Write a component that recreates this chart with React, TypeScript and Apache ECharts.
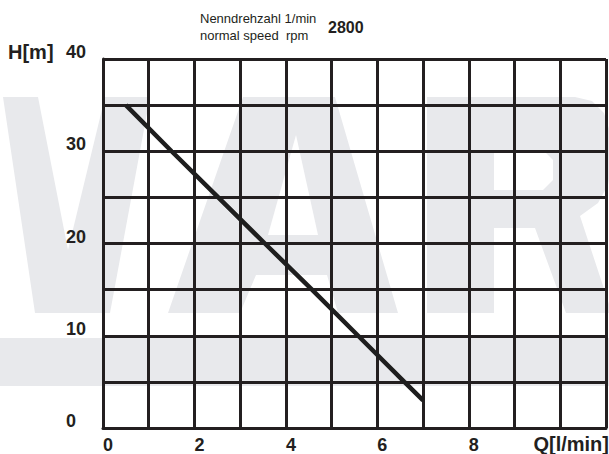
import React, { useEffect, useRef } from "react";
import * as echarts from "echarts";

const flowQ = [0.5, 1.5, 2.52, 3.54, 4.57, 5.58, 6.59, 7.0];
const headH = [35, 30, 25, 20, 15, 10, 5, 3.0];
const xTickLabels = [0, 2, 4, 6, 8];
const yTickLabels = [0, 10, 20, 30, 40];
const headerLine1 = "Nenndrehzahl 1/min";
const headerLine2 = "normal speed  rpm";
const speedValue = "2800";
const yName = "H[m]";
const xName = "Q[l/min]";

const INK = "#231f20";
const WM = "#e8e9ec";
const FONT = '"Liberation Sans", Arial, Helvetica, sans-serif';

export default function App() {
  const ref = useRef<HTMLDivElement>(null);
  useEffect(() => {
    if (!ref.current) return;
    const chart = echarts.init(ref.current, undefined, { renderer: "svg" });
    const wm = (points: number[][], fill = WM) => ({
      type: "polygon",
      z: -10,
      silent: true,
      shape: { points },
      style: { fill },
    });
    chart.setOption({
      animation: false,
      backgroundColor: "#ffffff",
      grid: { left: 103, top: 59, width: 507, height: 369, containLabel: false },
      graphic: [
        // watermark
        { type: "rect", z: -10, silent: true, shape: { x: 0, y: 338, width: 609, height: 48 }, style: { fill: WM } },
        wm([[3, 97], [38, 97], [68, 250], [105, 97], [150, 97], [110, 313], [35, 313]]),
        wm([[168, 313], [243, 97], [335, 97], [398, 313], [338, 313], [327, 275], [256, 275], [240, 313]]),
        wm([[296, 135], [318, 235], [268, 235]], "#ffffff"),
        wm([[427, 97], [575, 97], [592, 101], [604, 113], [610, 132], [612, 160], [608, 185], [598, 203], [580, 216], [612, 313], [566, 313], [535, 228], [494, 228], [494, 313], [427, 313]]),
        wm([[494, 150], [543, 150], [553, 160], [553, 180], [543, 190], [494, 190]], "#ffffff"),
        // texts
        { type: "text", x: 200, y: 18, style: { text: headerLine1, font: `13px ${FONT}`, fill: INK, verticalAlign: "middle", align: "left" } },
        { type: "text", x: 200, y: 35, style: { text: headerLine2, font: `13px ${FONT}`, fill: INK, verticalAlign: "middle", align: "left" } },
        { type: "text", x: 328, y: 27, style: { text: speedValue, font: `bold 16px ${FONT}`, fill: INK, verticalAlign: "middle", align: "left" } },
        { type: "text", x: 8, y: 52, style: { text: yName, font: `bold 20px ${FONT}`, fill: INK, verticalAlign: "middle", align: "left" } },
        { type: "text", x: 609, y: 444, style: { text: xName, font: `bold 20px ${FONT}`, fill: INK, verticalAlign: "middle", align: "right" } },
      ],
      xAxis: {
        type: "value",
        min: 0,
        max: 11,
        interval: 1,
        axisLine: { show: true, onZero: false, lineStyle: { color: INK, width: 3 } },
        axisTick: { show: false },
        splitLine: { show: true, lineStyle: { color: INK, width: 3 } },
        axisLabel: {
          show: true,
          margin: 8,
          align: "left",
          color: INK,
          fontSize: 18,
          fontWeight: "bold",
          fontFamily: FONT,
          formatter: (v: number) => (xTickLabels.includes(v) ? String(v) : ""),
        },
      },
      yAxis: {
        type: "value",
        min: 0,
        max: 40,
        interval: 5,
        axisLine: { show: true, lineStyle: { color: INK, width: 3 } },
        axisTick: { show: false },
        splitLine: { show: true, lineStyle: { color: INK, width: 3 } },
        axisLabel: {
          show: true,
          margin: 37,
          align: "left",
          verticalAlign: "bottom",
          lineHeight: 14,
          color: INK,
          fontSize: 18,
          fontWeight: "bold",
          fontFamily: FONT,
          formatter: (v: number) => (yTickLabels.includes(v) ? String(v) : ""),
        },
      },
      series: [
        {
          type: "line",
          data: flowQ.map((q, i) => [q, headH[i]]),
          symbol: "none",
          smooth: false,
          z: 5,
          lineStyle: { color: "#1e1e1e", width: 4.5, cap: "butt" },
        },
      ],
    });
    return () => chart.dispose();
  }, []);
  return (
    <div
      ref={ref}
      style={{ position: "absolute", left: 0, top: 0, width: 609, height: 454, background: "#fff" }}
    />
  );
}
